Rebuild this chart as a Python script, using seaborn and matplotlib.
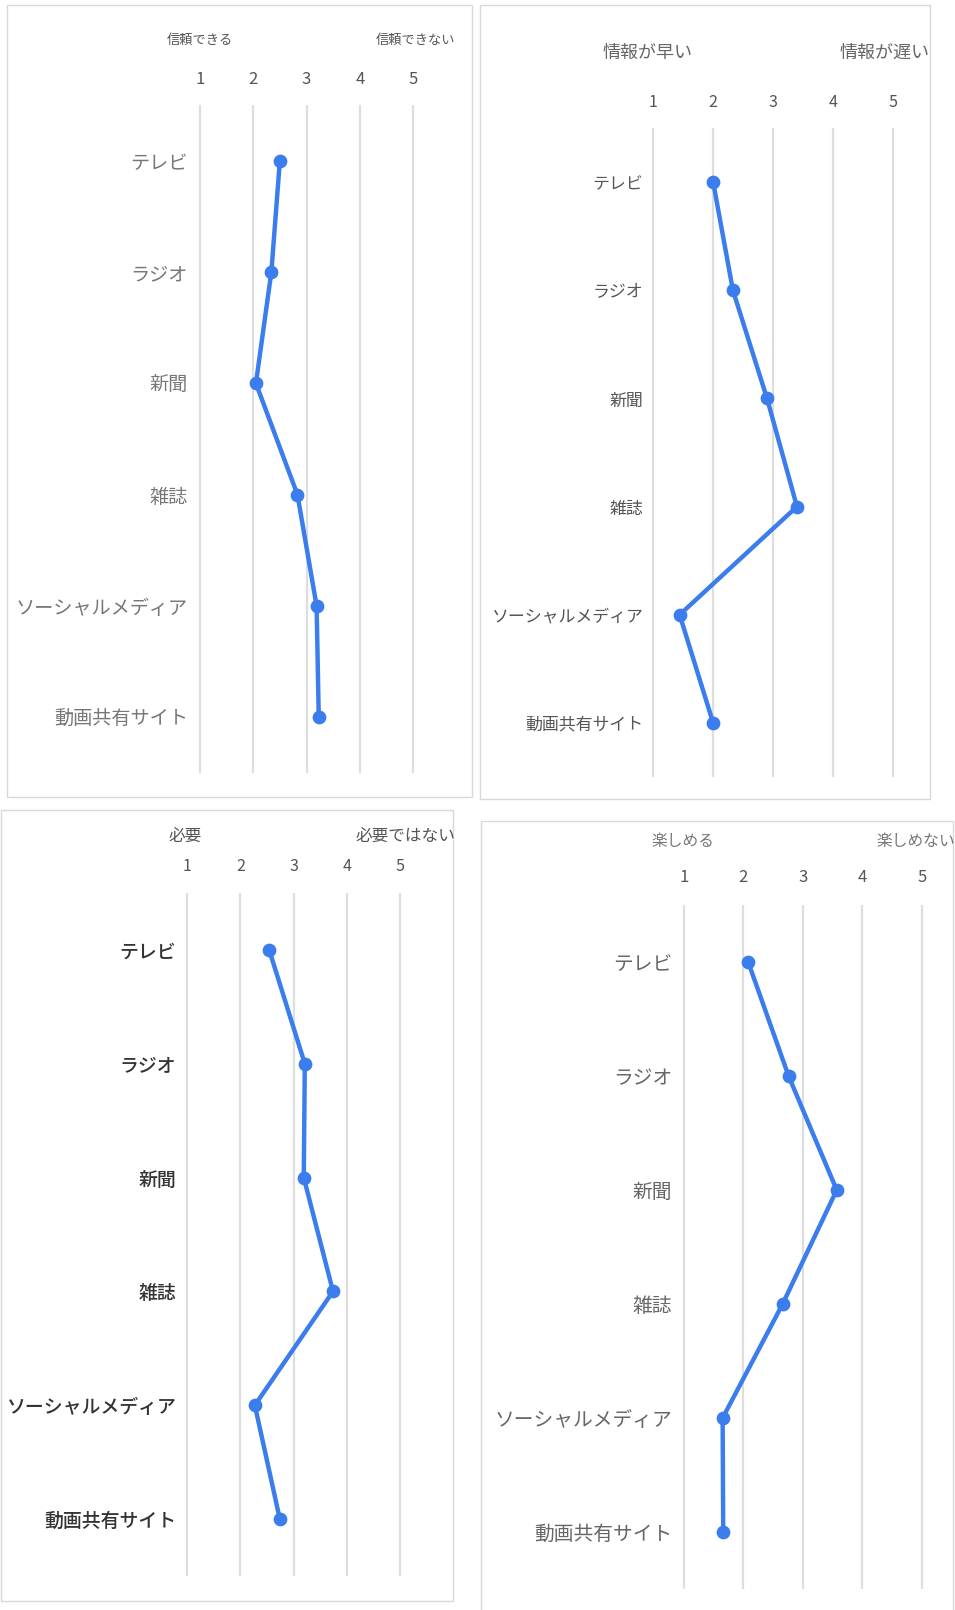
import numpy as np
import pandas as pd
import seaborn as sns
import matplotlib
matplotlib.use("Agg")
import matplotlib.pyplot as plt
from matplotlib.patches import Rectangle

sns.set_theme(style="white")
plt.rcParams["font.family"] = ["Noto Sans CJK JP", "DejaVu Sans"]

# ---- data -------------------------------------------------------------
media = ["テレビ", "ラジオ", "新聞", "雑誌", "ソーシャルメディア", "動画共有サイト"]
scale_ticks = [1, 2, 3, 4, 5]

trust = [2.50, 2.34, 2.05, 2.83, 3.19, 3.23]
speed = [2.00, 2.33, 2.90, 3.40, 1.44, 2.00]
need = [2.54, 3.21, 3.19, 3.74, 2.27, 2.74]
enjoy = [2.08, 2.76, 3.57, 2.66, 1.65, 1.66]

trust_ends = ["信頼できる", "信頼できない"]
speed_ends = ["情報が早い", "情報が遅い"]
need_ends = ["必要", "必要ではない"]
enjoy_ends = ["楽しめる", "楽しめない"]

# ---- layout (pixels) --------------------------------------------------
W, H = 955, 1610
LINE_BLUE = "#3b7ded"
GRID = "#dedede"
BORDER = "#d9d9d9"

panels = [
    dict(values=trust, ends=trust_ends, box=(7, 5, 472, 797),
         p1=200.0, p5=413.0, gtop=105, gbot=773, tick_y=79, head_y=40,
         head_x=(1.0, 5.05), head_fs=9.5, cat_fs=13.8, cat_gap=12, tick_fs=12,
         cat_color="#777777", head_color="#555555", cat_weight="normal"),
    dict(values=speed, ends=speed_ends, box=(480, 5, 930, 799),
         p1=653.3, p5=892.7, gtop=128, gbot=777, tick_y=102, head_y=52.5,
         head_x=(0.9, 4.87), head_fs=13, cat_fs=12.2, cat_gap=10, tick_fs=11.5,
         cat_color="#555555", head_color="#666666", cat_weight="normal"),
    dict(values=need, ends=need_ends, box=(0.5, 810, 453, 1601),
         p1=187.3, p5=400.0, gtop=893, gbot=1576, tick_y=866, head_y=836,
         head_x=(0.96, 5.1), head_fs=12, cat_fs=13.6, cat_gap=11, tick_fs=11.5,
         cat_color="#333333", head_color="#555555", cat_weight="medium"),
    dict(values=enjoy, ends=enjoy_ends, box=(481, 821, 953, 1615),
         p1=684.0, p5=921.7, gtop=905, gbot=1589, tick_y=876.4, head_y=841,
         head_x=(0.99, 4.9), head_fs=11.3, cat_fs=14.2, cat_gap=11.7, tick_fs=12,
         cat_color="#666666", head_color="#777777", cat_weight="normal"),
]

fig = plt.figure(figsize=(W / 100, H / 100), dpi=100)
fig.patch.set_facecolor("white")

PX2PT = 72 / 100
SIDE = 8  # horizontal padding (px) beyond the outer grid lines

for p in panels:
    # panel frame
    x0, y0, x1, y1 = p["box"]
    fig.patches.append(Rectangle((x0 / W, 1 - y1 / H), (x1 - x0) / W, (y1 - y0) / H,
                                 transform=fig.transFigure, fill=False,
                                 edgecolor=BORDER, linewidth=1.0, zorder=0))

    s = (p["p5"] - p["p1"]) / 4.0
    left = p["p1"] - SIDE
    right = p["p5"] + SIDE
    ax = fig.add_axes([left / W, 1 - p["gbot"] / H,
                       (right - left) / W, (p["gbot"] - p["gtop"]) / H])
    ax.set_facecolor("none")

    df = pd.DataFrame({"media": media, "score": p["values"]})
    sns.pointplot(data=df, x="score", y="media", order=media, color=LINE_BLUE,
                  errorbar=None, markers="o", markersize=7.5, linewidth=3.2, ax=ax)

    ax.set_xlim(1 - SIDE / s, 5 + SIDE / s)
    ax.set_ylim(len(media) - 0.5, -0.5)
    ax.set_xticks(scale_ticks)
    ax.set_xticklabels([str(t) for t in scale_ticks])
    ax.xaxis.set_ticks_position("top")
    ax.xaxis.grid(True, color=GRID, linewidth=1.6)
    ax.yaxis.grid(False)
    ax.set_axisbelow(True)
    for sp in ax.spines.values():
        sp.set_visible(False)
    ax.set_xlabel("")
    ax.set_ylabel("")

    # top tick labels (digits)
    fs_px = p["tick_fs"] / 72 * 100
    pad_px = (p["gtop"] - p["tick_y"]) - 0.56 * fs_px
    ax.tick_params(axis="x", length=0, pad=pad_px * PX2PT,
                   labelsize=p["tick_fs"], labelcolor="#555555")
    # category labels
    ax.tick_params(axis="y", length=0, pad=(p["cat_gap"] - SIDE) * PX2PT,
                   labelsize=p["cat_fs"], labelcolor=p["cat_color"])
    for lab in ax.get_yticklabels():
        lab.set_fontweight(p["cat_weight"])

    # scale end descriptions
    for txt, hv in zip(p["ends"], p["head_x"]):
        xpx = p["p1"] + (hv - 1) * s
        fig.text(xpx / W, 1 - p["head_y"] / H, txt, ha="center", va="center",
                 fontsize=p["head_fs"], color=p["head_color"])

fig.savefig("out.png", dpi=100, facecolor="white")
